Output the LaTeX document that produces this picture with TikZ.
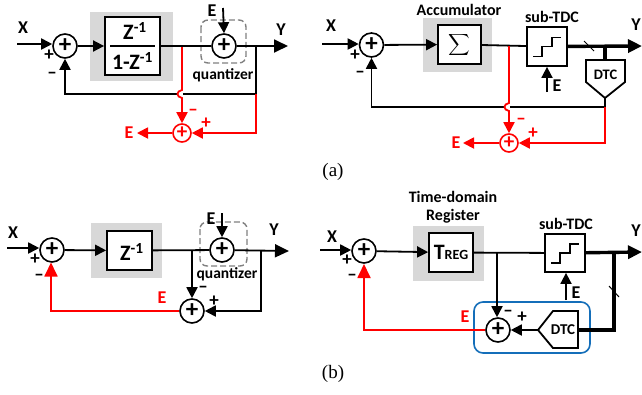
\documentclass[tikz,border=0pt]{standalone}
\usepackage{graphicx}
\usepackage{fontspec}
\setmainfont{Carlito}
\newfontfamily\serifcap{Liberation Serif}
\usetikzlibrary{arrows.meta,calc}
\definecolor{gfill}{RGB}{216,216,216}
\definecolor{rd}{RGB}{255,0,0}
\definecolor{bl}{RGB}{20,110,185}
\tikzset{
 wire/.style={line width=1.8pt,black},
 rwire/.style={line width=1.8pt,rd},
 thick wire/.style={line width=3.4pt,black},
 arr/.style={-{Triangle[length=11pt,width=11pt]}},
 barr/.style={-{Triangle[length=14pt,width=13pt]}},
 sumn/.style={circle,draw,line width=1.6pt,minimum size=24pt,inner sep=0,fill=white,font=\bfseries\fontsize{25}{25}\selectfont},
 rsum/.style={sumn,draw=rd,text=rd,minimum size=18pt,font=\bfseries\fontsize{21}{21}\selectfont},
 block/.style={rectangle,draw,line width=1.8pt,fill=white,inner sep=0},
 gbox/.style={fill=gfill,draw=none},
 lbl/.style={font=\bfseries\fontsize{15.5}{16}\selectfont,inner sep=0},
 ltr/.style={font=\bfseries\fontsize{18}{18}\selectfont,inner sep=0},
 rlbl/.style={ltr,text=rd},
 zt/.style={font=\bfseries\fontsize{22}{22}\selectfont,inner sep=0},
 sgn/.style={font=\bfseries\fontsize{19}{19}\selectfont,inner sep=0},
 rsgn/.style={sgn,text=rd},
 dash box/.style={draw=black!50,dash pattern=on 6pt off 3pt,line width=1.4pt,rounded corners=7pt},
 captext/.style={font=\serifcap\fontsize{19}{20}\selectfont,inner sep=0},
 headtext/.style={font=\bfseries\fontsize{16}{17}\selectfont,inner sep=0},
}
\newcommand{\stairs}[1]{%
 \draw[line width=1.8pt] ($(#1)+(-14,10)$) -- ++(9,0) -- ++(0,-10) -- ++(10,0) -- ++(0,-9) -- ++(9,0);}
\begin{document}
\begin{tikzpicture}[x=1pt,y=-1pt]
\useasboundingbox (0,0) rectangle (642,394);
% ---------- (a) left
\fill[gbox] (90,12) rectangle (173,81);
\node[sumn] (a1) at (65,46) {+};
\node[block,minimum width=55pt,minimum height=58pt] (a2) at (132.5,46) {};
\draw[line width=1.5pt] (110,46) -- (155,46);
\node[zt] (a2t) at (135,31) {Z\textsuperscript{-1}};
\node[zt] (a2b) at (132.5,61) {1-Z\textsuperscript{-1}};
\node[sumn] (a3) at (224,46) {+};
\draw[dash box] (201,20) rectangle (246,63);
\node[rsum] (a4) at (182,133) {+};
\coordinate (a0) at (17,44);
\coordinate (aE) at (223,8);
\coordinate (aY) at (288,46);
\coordinate (aj1) at (182,47);
\coordinate (aj2) at (256,46);
\coordinate (aj3) at (256,94);
\coordinate (aEo) at (137,133);
\draw[wire,arr] (a0) -- (a1.west|-a0);
\draw[wire,arr] (a1) -- (a2);
\draw[wire] (a2) -- (a3);
\draw[wire,arr] (aE) -- (a3.north);
\draw[wire,barr] (a3) -- (aY);
\draw[wire] (aj2) -- (aj3) -- (183,94);
\draw[wire,arr] (177,94) -- (65,94) -- (a1.south);
\draw[rwire,arr] (aj1) -- (182,90) .. controls (176,91) and (176,97) .. (182,98) -- (a4.north);
\draw[rwire,arr] (aj3) |- (a4.east);
\draw[rwire,arr] (a4) -- (aEo);
\node[ltr] at (23,28) {X};
\node[ltr] at (281,30) {Y};
\node[ltr] at (212,11) {E};
\node[lbl] at (223,75) {quantizer};
\node[rlbl] at (129,133) {E};
\node[sgn] at (49,55) {+};
\node[sgn] at (52,75) {–};
\node[rsgn] at (193,112) {–};
\node[rsgn] at (206,123) {+};
% ---------- (a) right
\fill[gbox] (423,18) rectangle (492,72);
\node[sumn] (b1) at (371.5,45) {+};
\node[block,minimum width=43pt,minimum height=39pt] (b2) at (459.5,44.5) {\scalebox{1.5}{$\displaystyle\sum$}};
\node[block,minimum width=40pt,minimum height=39pt] (b3) at (547,46.5) {};
\stairs{b3}
\draw[block] (586,60) -- (625,60) -- (625,82) -- (605,98) -- (586,82) -- cycle;
\node[font=\bfseries\fontsize{14.5}{15}\selectfont,inner sep=0] (b4) at (605.5,75) {DTC};
\coordinate (b4in) at (605,60);
\coordinate (b4out) at (605,98);
\node[rsum] (b5) at (509,143) {+};
\coordinate (b0) at (322,44);
\coordinate (bY) at (642,46);
\coordinate (bj1) at (509,46);
\coordinate (bj2) at (605,46);
\coordinate (bj3) at (605,107);
\coordinate (bEo) at (463,143);
\coordinate (bEi) at (547,92);
\draw[wire,arr] (b0) -- (b1.west|-b0);
\draw[wire,arr] (b1) -- (b2);
\draw[wire] (b2) -- (b3);
\draw[thick wire,barr] (b3) -- (bY);
\draw[thick wire] (bj2) -- (b4in);
\draw[wire] (b4out) -- (bj3) -- (510,107);
\draw[wire,arr] (504,107) -- (371.5,107) -- (b1.south);
\draw[rwire,arr] (bj1) -- (509,103) .. controls (503,104) and (503,110) .. (509,111) -- (b5.north);
\draw[rwire,arr] (bj3) |- (b5.east);
\draw[rwire,arr] (b5) -- (bEo);
\draw[wire,arr] (bEi) -- (b3.south);
\draw[line width=1pt] (584,41) -- (594,51);
\node[ltr] at (331,26) {X};
\node[ltr] at (636,25) {Y};
\node[headtext] at (459,10) {Accumulator};
\node[headtext] at (552,17) {sub-TDC};
\node[ltr] at (557,86) {E};
\node[rlbl] at (456,143) {E};
\node[sgn] at (355,55) {+};
\node[sgn] at (360,74) {–};
\node[rsgn] at (521,121) {–};
\node[rsgn] at (533,133) {+};
\node[captext] at (333,172) {(a)};
% ---------- (b) left
\fill[gbox] (91,223) rectangle (162,278);
\node[sumn] (c1) at (52,250) {+};
\node[block,minimum width=45pt,minimum height=39pt] (c2) at (129.5,250.5) {};
\node[zt] (c2t) at (132,252) {Z\textsuperscript{-1}};
\node[sumn] (c3) at (222,250) {+};
\draw[dash box] (200,222) rectangle (247,266);
\node[sumn] (c4) at (192,311) {+};
\coordinate (c0) at (7,248);
\coordinate (cE) at (222,213);
\coordinate (cY) at (289,251);
\coordinate (cj1) at (192,251);
\coordinate (cj2) at (261,251);
\draw[wire,arr] (c0) -- (c1.west|-c0);
\draw[wire,arr] (c1) -- (c2);
\draw[wire] (c2) -- (c3);
\draw[wire,arr] (cE) -- (c3.north);
\draw[wire,barr] (c3) -- (cY);
\draw[wire,arr] (cj1) -- (c4.north);
\draw[wire,arr] (cj2) |- (c4.east);
\draw[rwire,barr] (c4) -- (51,311) -- (51,262.5);
\node[ltr] at (13,233) {X};
\node[ltr] at (274,230) {Y};
\node[ltr] at (211,219) {E};
\node[lbl] at (227,274) {quantizer};
\node[rlbl] at (162,298) {E};
\node[sgn] at (35,259) {+};
\node[sgn] at (39,277) {–};
\node[sgn] at (203,289) {–};
\node[sgn] at (214,301) {+};
% ---------- (b) right
\fill[gbox] (413,226) rectangle (484,281);
\node[sumn] (d1) at (364,251) {+};
\node[block,minimum width=44pt,minimum height=39pt] (d2) at (451,252.5) {\bfseries\fontsize{22}{22}\selectfont T\fontsize{14}{14}\selectfont REG};
\node[block,minimum width=40pt,minimum height=38pt] (d3) at (565,253) {};
\stairs{d3}
\draw[rounded corners=9pt,draw=bl,line width=1.6pt] (474,302) rectangle (590,353);
\draw[block] (538,330) -- (553,311) -- (578,311) -- (578,348) -- (553,348) -- cycle;
\node[font=\bfseries\fontsize{15}{15}\selectfont,inner sep=0] (d4) at (563,330) {DTC};
\coordinate (d4in) at (578,330);
\coordinate (d4out) at (538,330);
\node[sumn] (d5) at (498,330) {+};
\coordinate (d0) at (320,250);
\coordinate (dY) at (642,252);
\coordinate (dj1) at (497,252);
\coordinate (dj2) at (614,252);
\coordinate (dj3) at (614,330);
\coordinate (dEi) at (566,300);
\draw[wire,arr] (d0) -- (d1.west|-d0);
\draw[wire,arr] (d1) -- (d2);
\draw[wire] (d2) -- (d3);
\draw[thick wire,barr] (d3) -- (dY);
\draw[thick wire] (dj2) -- (dj3) -- (d4in);
\draw[wire,arr] (dj1) -- (d5.north-|dj1);
\draw[wire,arr] (d4out) -- (d5.east);
\draw[rwire,barr] (d5) -- (364,330) -- (364,264);
\draw[wire,arr] (dEi) -- (d3.south-|dEi);
\draw[line width=1pt] (609,286) -- (619,297);
\node[ltr] at (332,237) {X};
\node[ltr] at (636,231) {Y};
\node[headtext] at (453,197) {Time-domain};
\node[headtext] at (453,216) {Register};
\node[headtext] at (566,224) {sub-TDC};
\node[ltr] at (576,293) {E};
\node[rlbl] at (465,317) {E};
\node[sgn] at (347,260) {+};
\node[sgn] at (352,277) {–};
\node[sgn] at (508,313) {–};
\node[sgn] at (522,317) {+};
\node[captext] at (333,374) {(b)};
\end{tikzpicture}
\end{document}
